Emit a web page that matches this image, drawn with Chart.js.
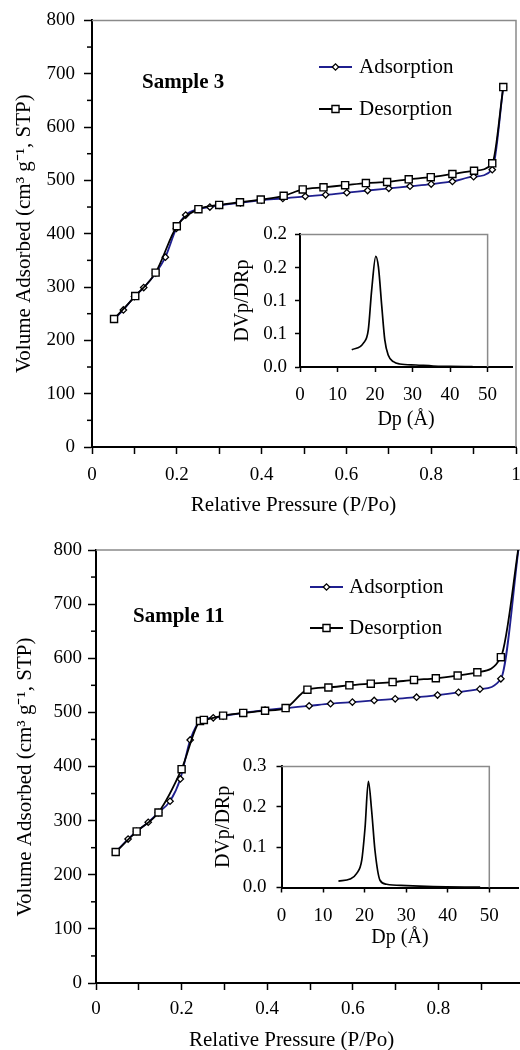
<!DOCTYPE html>
<html>
<head>
<meta charset="utf-8">
<script src="https://cdn.jsdelivr.net/npm/chart.js@4.4.1/dist/chart.umd.min.js"></script>
<style>
  html, body { margin: 0; padding: 0; background: #fff; overflow: hidden; }
  #page { position: relative; width: 520px; height: 1050px; overflow: hidden; background: #fff; }
  canvas { position: absolute; }
</style>
</head>
<body>
<div id="page">
  <canvas id="main3" width="560" height="525" style="left:0px;top:0px"></canvas>
  <canvas id="inset3" width="330" height="230" style="left:200px;top:215px"></canvas>
  <canvas id="main11" width="560" height="530" style="left:0px;top:525px"></canvas>
  <canvas id="inset11" width="350" height="230" style="left:180px;top:745px"></canvas>
</div>
<script>
// ---- Sample 3 isotherm ----
const s3AdsP = [0.052, 0.074, 0.100, 0.122, 0.150, 0.173, 0.199, 0.221, 0.250, 0.278, 0.300, 0.350, 0.400, 0.450, 0.503, 0.551, 0.601, 0.650, 0.700, 0.750, 0.800, 0.850, 0.900, 0.944, 0.970];
const s3AdsV = [240, 257, 282, 299, 326, 356, 410, 435, 446, 450, 453, 458, 463, 466, 470, 473, 477, 481, 485, 489, 493, 498, 507, 520, 675];
const s3DesP = [0.052, 0.102, 0.150, 0.200, 0.251, 0.300, 0.349, 0.398, 0.452, 0.497, 0.546, 0.597, 0.646, 0.696, 0.747, 0.799, 0.850, 0.901, 0.944, 0.970];
const s3DesV = [240, 283, 327, 414, 446, 454, 459, 464, 471, 483, 487, 491, 495, 497, 502, 506, 512, 518, 532, 675];

// ---- Sample 11 isotherm ----
const s11AdsP = [0.046, 0.075, 0.095, 0.122, 0.146, 0.173, 0.197, 0.220, 0.245, 0.274, 0.297, 0.344, 0.395, 0.445, 0.498, 0.548, 0.599, 0.650, 0.699, 0.749, 0.798, 0.847, 0.897, 0.946, 0.990];
const s11AdsV = [242, 266, 280, 297, 315, 336, 377, 449, 485, 490, 493, 499, 504, 508, 512, 516, 519, 522, 525, 528, 532, 537, 543, 562, 820];
const s11DesP = [0.046, 0.095, 0.146, 0.200, 0.243, 0.252, 0.297, 0.344, 0.395, 0.443, 0.494, 0.543, 0.592, 0.642, 0.693, 0.743, 0.794, 0.845, 0.891, 0.946, 0.990];
const s11DesV = [242, 280, 315, 395, 484, 486, 494, 499, 503, 508, 542, 546, 550, 553, 556, 560, 563, 568, 574, 602, 820];

// ---- pore size distributions (insets) ----
const psd3D = [13.8, 16.9, 18.2, 19.1, 20.2, 20.9, 21.8, 22.6, 23.5, 24.9, 26.6, 30.9, 35.5, 40.0, 46.0];
const psd3V = [0.026, 0.036, 0.056, 0.116, 0.167, 0.151, 0.091, 0.041, 0.018, 0.008, 0.0045, 0.003, 0.0015, 0.001, 0.0005];
const psd11D = [13.7, 16.5, 18.1, 19.3, 20.1, 20.9, 21.7, 22.5, 23.7, 25.3, 30.1, 36.5, 47.8];
const psd11V = [0.016, 0.021, 0.035, 0.067, 0.148, 0.263, 0.189, 0.091, 0.018, 0.008, 0.0045, 0.002, 0.001];

// ---- ticks ----
const mainXTicks = [0, 0.1, 0.2, 0.3, 0.4, 0.5, 0.6, 0.7, 0.8, 0.9, 1.0];
const mainXLabels = ['0', '', '0.2', '', '0.4', '', '0.6', '', '0.8', '', '1'];
const mainYMinor = [50, 150, 250, 350, 450, 550, 650, 750];
const insetXTicks = [0, 10, 20, 30, 40, 50];
const inset3YTicks = [0, 0.05, 0.1, 0.15, 0.2];
const inset3YLabels = ['0.0', '0.1', '0.1', '0.2', '0.2'];
const inset11YTicks = [0, 0.1, 0.2, 0.3];
const inset11YLabels = ['0.0', '0.1', '0.2', '0.3'];

const yTitle = 'Volume Adsorbed (cm\u00B3 g\u207B\u00B9, STP)';
const xTitle = 'Relative Pressure (P/Po)';

const SERIF = "'Liberation Serif', 'Times New Roman', serif";
const tickFont = { family: SERIF, size: 19 };
const titleFont = { family: SERIF, size: 21 };
const insetTitleFont = { family: SERIF, size: 20 };

const pairs = (xs, ys) => xs.map((x, i) => ({ x: x, y: ys[i] }));

// grey top/right frame, plus the short minor ticks on the left axis
const frame = {
  id: 'frame',
  beforeDatasetsDraw(chart, args, opts) {
    const { ctx, chartArea: a, scales } = chart;
    const right = opts.xEnd != null ? scales.x.getPixelForValue(opts.xEnd) : a.right;
    ctx.save();
    ctx.strokeStyle = '#8a8a8a';
    ctx.lineWidth = 1.5;
    ctx.beginPath();
    ctx.moveTo(a.left, a.top);
    ctx.lineTo(right, a.top);
    ctx.lineTo(right, a.bottom);
    ctx.stroke();
    if (opts.minor) {
      ctx.strokeStyle = '#000';
      opts.minor.forEach(v => {
        const y = scales.y.getPixelForValue(v);
        ctx.beginPath();
        ctx.moveTo(a.left - 5, y);
        ctx.lineTo(a.left, y);
        ctx.stroke();
      });
    }
    ctx.restore();
  }
};

// sample name and a line+marker legend inside the plot
const notes = {
  id: 'notes',
  afterDraw(chart, args, opts) {
    if (!opts.title) return;
    const ctx = chart.ctx;
    ctx.save();
    ctx.fillStyle = '#000';
    ctx.textBaseline = 'middle';
    ctx.font = 'bold 21px ' + SERIF;
    ctx.fillText(opts.title, opts.titleX, opts.titleY);
    ctx.font = '21px ' + SERIF;
    chart.data.datasets.forEach((ds, i) => {
      const y = opts.rows[i];
      ctx.strokeStyle = ds.borderColor;
      ctx.lineWidth = ds.borderWidth;
      ctx.beginPath();
      ctx.moveTo(opts.x0, y);
      ctx.lineTo(opts.x1, y);
      ctx.stroke();
      ctx.strokeStyle = ds.pointBorderColor;
      ctx.fillStyle = ds.pointBackgroundColor;
      ctx.lineWidth = ds.pointBorderWidth;
      Chart.helpers.drawPoint(ctx, { pointStyle: ds.pointStyle, radius: ds.pointRadius, borderWidth: ds.pointBorderWidth, rotation: 0 }, (opts.x0 + opts.x1) / 2, y);
      ctx.fillStyle = '#000';
      ctx.fillText(ds.label, opts.textX, y);
    });
    ctx.restore();
  }
};

function mainChart(id, c) {
  return new Chart(document.getElementById(id), {
    type: 'line',
    data: {
      datasets: [
        { label: 'Adsorption', data: pairs(c.adsP, c.adsV), borderColor: '#1f1f8f', borderWidth: 1.8,
          pointStyle: 'rectRot', pointRadius: 3.2, pointBorderColor: '#000', pointBackgroundColor: '#fff',
          pointBorderWidth: 1.3, cubicInterpolationMode: 'monotone', order: 2 },
        { label: 'Desorption', data: pairs(c.desP, c.desV), borderColor: '#000', borderWidth: 1.8,
          pointStyle: 'rect', pointRadius: 5, pointBorderColor: '#000', pointBackgroundColor: '#fff',
          pointBorderWidth: 1.4, cubicInterpolationMode: 'monotone', order: 1 }
      ]
    },
    options: {
      responsive: false,
      animation: false,
      layout: { padding: { top: c.padTop, right: c.padRight, left: 0, bottom: 0 } },
      plugins: {
        legend: { display: false },
        tooltip: { enabled: false },
        frame: { minor: mainYMinor },
        notes: c.notes
      },
      scales: {
        x: {
          type: 'linear', min: 0, max: 1,
          afterBuildTicks: s => { s.ticks = mainXTicks.map(v => ({ value: v })); },
          afterFit: s => { s.height = c.xH; },
          ticks: { callback: (v, i) => mainXLabels[i], font: tickFont, color: '#000', padding: c.xPad, maxRotation: 0, autoSkip: false },
          grid: { drawOnChartArea: false, tickLength: 7, tickColor: '#000', tickWidth: 1.5 },
          border: { color: '#000', width: 2 },
          // trailing spaces nudge the centred title a little off centre, as in the original
          title: { display: true, text: xTitle + ' '.repeat(c.xTitleShift), font: titleFont, color: '#000', padding: { top: 0, bottom: c.xTitlePad } }
        },
        y: {
          min: 0, max: 800,
          afterFit: s => { s.width = c.yW; },
          ticks: { stepSize: 100, font: tickFont, color: '#000', padding: c.yPad },
          grid: { drawOnChartArea: false, tickLength: 8, tickColor: '#000', tickWidth: 1.5 },
          border: { color: '#000', width: 2 },
          title: { display: true, text: yTitle + ' '.repeat(c.yTitleShift), font: titleFont, color: '#000', padding: { top: c.yTitlePad, bottom: 0 } }
        }
      }
    },
    plugins: [frame, notes]
  });
}

function insetChart(id, c) {
  return new Chart(document.getElementById(id), {
    type: 'line',
    data: {
      datasets: [
        { label: 'PSD', data: pairs(c.d, c.v), borderColor: '#000', borderWidth: 1.7, pointRadius: 0,
          cubicInterpolationMode: 'monotone' }
      ]
    },
    options: {
      responsive: false,
      animation: false,
      layout: { padding: { top: c.padTop, right: c.padRight, left: 0, bottom: 0 } },
      plugins: {
        legend: { display: false },
        tooltip: { enabled: false },
        frame: { xEnd: 50 },
        notes: {}
      },
      scales: {
        x: {
          type: 'linear', min: 0, max: c.xMax,
          afterBuildTicks: s => { s.ticks = insetXTicks.map(v => ({ value: v })); },
          afterFit: s => { s.height = c.xH; },
          ticks: { font: tickFont, color: '#000', padding: c.xPad, maxRotation: 0, autoSkip: false },
          grid: { drawOnChartArea: false, tickLength: 5, tickColor: '#000', tickWidth: 1.5 },
          border: { color: '#000', width: 2 },
          title: { display: true, text: 'Dp (\u00C5)', font: insetTitleFont, color: '#000', padding: { top: 0, bottom: c.xTitlePad } }
        },
        y: {
          min: 0, max: c.yMax,
          afterBuildTicks: s => { s.ticks = c.yTicks.map(v => ({ value: v })); },
          afterFit: s => { s.width = c.yW; },
          ticks: { callback: (v, i) => c.yLabels[i], font: tickFont, color: '#000', padding: c.yPad, autoSkip: false },
          grid: { drawOnChartArea: false, tickLength: 5, tickColor: '#000', tickWidth: 1.5 },
          border: { color: '#000', width: 2 },
          title: { display: true, text: 'DVp/DRp', font: insetTitleFont, color: '#000', padding: { top: c.yTitlePad, bottom: 0 } }
        }
      }
    },
    plugins: [frame]
  });
}

// the main canvases are wider than the page so that P/Po = 1 of the lower plot falls just past the right edge
mainChart('main3', {
  adsP: s3AdsP, adsV: s3AdsV, desP: s3DesP, desV: s3DesV,
  padTop: 19, padRight: 44, yW: 92, xH: 78,
  xPad: 10, yPad: 9, xTitlePad: 7, yTitlePad: 12, xTitleShift: 4, yTitleShift: 0,
  notes: { title: 'Sample 3', titleX: 142, titleY: 83, x0: 319, x1: 352, textX: 359, rows: [67, 109] }
});

insetChart('inset3', {
  d: psd3D, v: psd3V, xMax: 56.5, yMax: 0.2, yTicks: inset3YTicks, yLabels: inset3YLabels,
  padTop: 19, padRight: 18, yW: 100, xH: 78,
  xPad: 12, yPad: 8, xTitlePad: 13, yTitlePad: 31
});

mainChart('main11', {
  adsP: s11AdsP, adsV: s11AdsV, desP: s11DesP, desV: s11DesV,
  padTop: 25, padRight: 36, yW: 96, xH: 72,
  xPad: 8, yPad: 6, xTitlePad: 2, yTitlePad: 13, xTitleShift: 7, yTitleShift: 4,
  notes: { title: 'Sample 11', titleX: 133, titleY: 92, x0: 310, x1: 343, textX: 349, rows: [62, 103] }
});

insetChart('inset11', {
  d: psd11D, v: psd11V, xMax: 57, yMax: 0.3, yTicks: inset11YTicks, yLabels: inset11YLabels,
  padTop: 19, padRight: 11.6, yW: 101.5, xH: 87.5,
  xPad: 12.5, yPad: 10, xTitlePad: 25, yTitlePad: 32
});
</script>
</body>
</html>
